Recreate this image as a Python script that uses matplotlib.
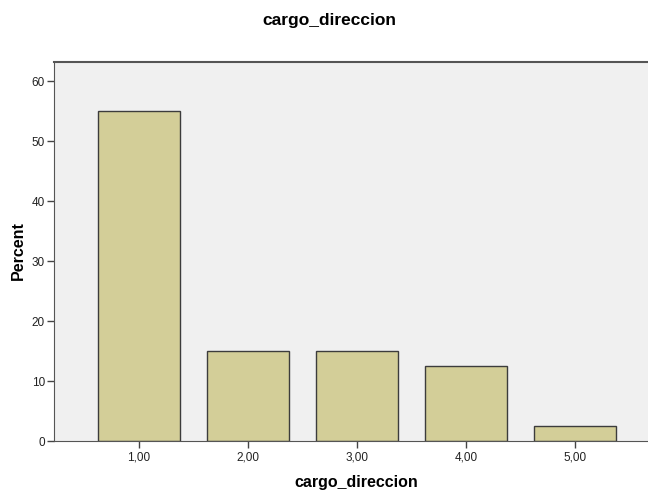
import matplotlib.pyplot as plt

# percent of cases per category
categories = ["1,00", "2,00", "3,00", "4,00", "5,00"]
positions = [1, 2, 3, 4, 5]
percent = [55.0, 15.0, 15.0, 12.5, 2.5]

fig = plt.figure(figsize=(6.48, 4.94), dpi=100)
ax = fig.add_axes([54 / 648, 53 / 494, 1 - 54 / 648, 379 / 494])
ax.set_facecolor("#f0f0f0")

ax.bar(positions, percent, width=0.75, color="#d3ce98", edgecolor="#3c3c3c", linewidth=1.0)

ax.set_xlim(0.22, 0.22 + 594 / 109)
ax.set_ylim(0, 379 / 6)
ax.set_yticks([0, 10, 20, 30, 40, 50, 60])
ax.set_xticks(positions)
ax.set_xticklabels(categories)
ax.tick_params(axis="both", direction="out", length=5, width=1, colors="#444444",
               labelsize=8.5, labelcolor="#222222")
ax.tick_params(axis="y", pad=1.5)
ax.tick_params(axis="x", pad=2.5)

for side in ["left", "bottom", "top"]:
    ax.spines[side].set_color("#555555")
ax.spines["top"].set_linewidth(1.5)
ax.spines["right"].set_visible(False)

fig.text(329 / 648, 1 - 20 / 494, "cargo_direccion", ha="center", va="center",
         fontsize=12.5, fontweight="bold", family="Liberation Sans")
fig.text(356 / 648, 1 - 482 / 494, "cargo_direccion", ha="center", va="center",
         fontsize=11.5, fontweight="bold", family="Liberation Sans")
fig.text(18 / 648, 1 - 251 / 494, "Percent", ha="center", va="center", rotation=90,
         fontsize=11.5, fontweight="bold", family="Liberation Sans")

for lbl in ax.get_xticklabels() + ax.get_yticklabels():
    lbl.set_family("Liberation Sans")

fig.savefig("out.png", dpi=100)
